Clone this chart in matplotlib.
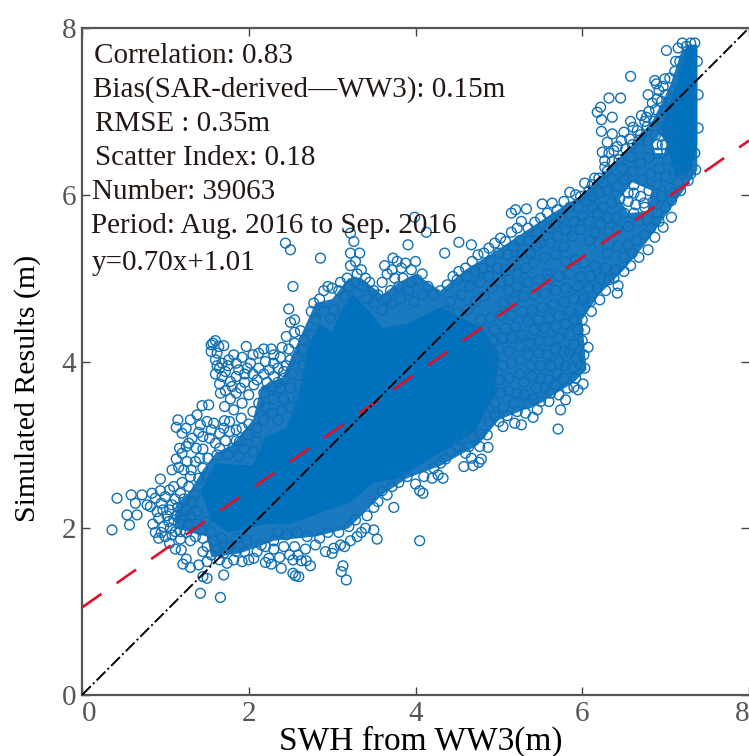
import numpy as np
import matplotlib
matplotlib.use("Agg")
import matplotlib.pyplot as plt

plt.rcParams["font.family"] = ["Liberation Serif", "DejaVu Serif"]

# values
line_x = [0, 8]
one_to_one_y = [0, 8]
fit_y = [1.05, 6.65]
ticks = [0, 2, 4, 6, 8]

stats_text = [
    "Correlation: 0.83",
    "Bias(SAR-derived\u2014WW3): 0.15m",
    "RMSE : 0.35m",
    "Scatter Index: 0.18",
    "Number: 39063",
    "Period: Aug. 2016 to Sep. 2016",
    "y=0.70x+1.01",
]
stats_x = [0.145, 0.135, 0.155, 0.155, 0.12, 0.105, 0.12]
stats_y = [7.66, 7.26, 6.85, 6.44, 6.03, 5.63, 5.18]

# the cloud is too overlapped to read single circles: outline of the crowded part (tint)
# and of the solid part, single circles only where they can be told apart
crowd_x = [1.1, 1.15, 1.3, 1.45, 1.6, 1.8, 2.05, 2.15, 2.4, 2.62, 2.8, 3.0, 3.2, 3.35, 3.6, 3.8, 4.0, 4.3, 4.6, 5.0, 5.3, 5.6, 6.0, 6.3, 6.6, 6.85, 7.05, 7.2, 7.38, 7.38, 7.25, 7.0, 6.75, 6.5, 6.2, 6.0, 6.05, 5.9, 5.5, 5.0, 4.75, 4.3, 3.9, 3.6, 3.2, 2.8, 2.3, 1.9, 1.55, 1.5, 1.3, 1.15]
crowd_y = [2.1, 2.3, 2.45, 2.7, 2.9, 3.0, 3.3, 3.7, 3.8, 4.3, 4.7, 4.75, 5.0, 5.0, 4.8, 4.95, 5.05, 4.85, 5.1, 5.35, 5.55, 5.75, 6.0, 6.3, 6.6, 6.9, 7.3, 7.75, 7.75, 6.3, 6.1, 5.75, 5.4, 5.1, 4.8, 4.5, 3.9, 3.75, 3.5, 3.3, 3.0, 2.75, 2.6, 2.4, 2.0, 1.9, 1.85, 1.7, 1.65, 1.9, 1.95, 2.0]
gap_a_x = [6.45, 6.6, 6.83, 6.78, 6.55]
gap_a_y = [5.95, 6.15, 6.05, 5.8, 5.78]
gap_b_x = [6.84, 6.93, 7.03, 6.98, 6.88]
gap_b_y = [6.6, 6.72, 6.62, 6.5, 6.5]
core_x = [1.55, 1.42, 1.6, 2.05, 2.2, 2.45, 2.6, 2.72, 2.85, 3.0, 3.1, 3.25, 3.45, 3.6, 3.9, 4.3, 4.8, 5.0, 4.95, 4.7, 4.2, 3.8, 3.5, 3.2, 2.9, 2.5, 2.2, 2.0, 1.75]
core_y = [2.1, 2.45, 2.78, 2.75, 3.1, 3.2, 3.6, 4.2, 4.45, 4.35, 4.6, 4.8, 4.6, 4.4, 4.45, 4.65, 4.4, 4.1, 3.6, 3.15, 2.85, 2.6, 2.55, 2.3, 2.2, 2.05, 2.05, 2.0, 1.95]
spine_x = [7.25, 7.15, 7.05, 6.95, 7.05, 7.12, 7.3, 7.38, 7.38]
spine_y = [7.8, 7.4, 7.1, 6.8, 6.5, 6.2, 6.3, 6.6, 7.8]

low_left = [(0.36,1.98),(0.42,2.36),(0.54,2.16),(0.57,2.04),(0.66,2.16),(0.59,2.40),(0.64,2.30),(0.72,2.40),(0.78,2.28),(0.84,2.42),(0.94,2.59),(0.94,2.45),
    (0.82,2.26),(0.88,2.36),(1.0,2.38),(1.05,2.46),(1.1,2.5),(0.9,2.2),(0.85,2.05),(0.88,1.95),(0.92,1.88),(1.0,1.9),(0.98,2.02),(1.06,2.0),(1.12,1.96),(1.02,2.15),(1.1,2.1),(1.18,2.05),(1.15,2.25),(1.22,2.35),(1.28,2.5),(1.2,2.55),(1.32,2.32),(1.3,2.15),(1.38,2.05),(1.25,1.95),(1.36,1.9),(1.05,1.82),(1.18,1.87),(1.3,1.85),(1.42,1.98),(1.48,2.08),(0.95,2.3),(1.08,2.28),(1.25,2.22),(1.38,2.2),(1.35,2.4),(1.4,2.6),(1.3,2.62),(1.45,2.72),(1.5,2.62),
    (1.42,1.22),(1.66,1.17),(1.50,1.40),(1.45,1.42),(1.70,1.44),(1.30,1.53),(1.21,1.57),(1.25,1.63),(1.40,1.56),(1.12,1.75),(1.19,1.74),
    (1.5,1.6),(1.55,1.68),(1.5,1.78),(1.45,1.72),(1.58,1.85),(1.65,1.62),(1.62,1.75),(1.7,1.7),(1.74,1.58),(1.78,1.78),(1.82,1.62),(1.85,1.72),(1.92,1.60),(1.95,1.72),(2.0,1.62),(2.06,1.64),(1.98,1.85),(2.1,1.72),(2.15,1.8),(2.2,1.78),(2.3,1.85),(1.55,1.95),(1.68,1.88),(1.85,1.88),(1.45,1.88),
    (0.92,2.12),(0.97,2.22),(1.05,2.22),(1.12,2.35),(1.18,2.42),(1.04,2.08),(0.95,1.95),(1.14,2.16),(1.22,2.12),(1.08,1.92),(1.18,1.96),(1.27,2.05)]
bottom_edge = [(3.17,1.38),(3.11,1.48),(3.13,1.55),(2.39,1.52),(2.53,1.46),(2.56,1.43),(2.60,1.42),(2.74,1.55),(2.69,1.61),(2.63,1.61),(2.53,1.62),(2.27,1.57),(2.20,1.59),(2.24,1.64),(2.37,1.65),(2.49,1.68),(2.59,1.68),
    (2.3,1.75),(2.42,1.78),(2.55,1.78),(2.68,1.75),(2.8,1.8),(2.92,1.72),(3.0,1.7),(3.02,1.76),(3.1,1.8),(3.15,1.78),(3.22,1.85),(3.3,1.9),(3.35,1.95),(3.4,2.0),(3.5,1.98),(3.54,1.87),(2.85,1.88),(2.7,1.9),(2.95,1.95),(3.08,1.95),(3.2,2.02),(3.28,2.1),(2.45,1.92),(2.35,1.95),(2.58,1.95),(3.42,2.15),(3.5,2.25),(3.55,2.32),(3.66,2.4),(3.74,2.25),(4.05,1.85),(3.6,2.45),(3.72,2.5),(3.8,2.55),
    (4.0,2.53),(4.05,2.45),(4.09,2.42),(4.1,2.62),(4.2,2.6),(4.27,2.64),(4.33,2.6),(4.22,2.72),(4.36,2.83),(4.5,2.98),(4.6,2.9),(4.64,2.98),(4.67,2.84),(4.58,2.74),(4.69,2.75),(4.76,2.79),(4.79,2.83),(4.78,3.13),(4.86,3.12),(4.77,2.98),(4.87,2.97),(3.9,2.62),(4.42,2.92),(4.55,3.06),(4.7,3.1),(4.45,3.1),(4.6,3.18),(4.3,2.78)]
upper_left = [(1.15,3.30),(1.13,3.21),(1.3,3.3),(1.38,3.36),(1.44,3.47),(1.52,3.48),(1.5,3.28),(1.58,3.26),(1.71,3.29),(1.77,3.28),(1.2,3.14),(1.32,3.08),(1.42,3.24),(1.53,3.08),(1.65,3.14),(1.77,3.16),(1.91,3.32),(1.99,3.12),(1.17,2.96),(1.37,2.96),(1.13,2.83),(1.2,2.9),(1.26,2.8),(1.16,2.73),(1.31,2.7),(1.41,2.84),(1.51,2.84),(1.65,2.96),(1.81,2.96),(1.89,3.04),(2.05,2.92),(2.09,3.04),(1.65,3.73),(1.66,3.62),(1.71,3.46),(1.78,3.76),
    (1.25,3.2),(1.28,3.02),(1.45,3.1),(1.6,3.02),(1.72,3.05),(1.85,3.18),(1.95,2.95),(2.0,3.25),(2.1,3.2),(2.18,3.3),(2.05,3.4),(1.82,3.42),(1.92,3.5),(2.0,3.6),(2.12,3.5),(2.2,3.45),(2.28,3.38),(2.35,3.3),(2.4,3.42),(2.3,3.55),(2.42,3.55),(2.5,3.45),(2.18,3.62),(2.06,3.72),(1.9,3.68),(1.85,3.82),(1.72,3.88),(1.6,3.85),(1.57,4.22),(1.6,4.25),(1.7,4.19),(1.97,4.18),(2.27,4.15),(2.4,4.17),(2.55,4.35),(2.62,4.37),(2.5,4.47),(2.48,4.63),(2.53,4.9),(2.86,5.24),(2.44,5.42),(2.5,5.34),
    (1.55,4.12),(1.62,4.1),(1.6,4.02),(1.68,3.98),(1.65,3.92),(1.76,4.02),(1.85,3.98),(1.92,4.05),(2.02,3.98),(2.12,4.1),(2.2,4.0),(2.3,3.98),(2.38,4.05),(2.48,4.15),(2.55,4.22),(2.45,3.95),(2.58,4.05),(2.65,4.15),(2.52,3.85),(2.42,3.8),(2.3,3.82),(2.18,3.85),(2.05,3.85),(1.95,3.85),(2.6,3.72),(2.5,3.68),(2.38,3.68),(2.28,3.7),(2.65,3.95),(2.66,4.25),(2.6,3.55),(2.68,3.85),(2.72,4.05),(2.75,4.32),(2.8,4.5),(2.78,4.7),(2.75,4.6),(2.9,4.6),(2.98,4.52),(3.02,4.62),
    (1.78,3.55),(1.85,3.62),(1.72,3.65),(1.95,3.75),(2.12,3.92),(2.25,3.9),(2.35,3.92),(2.1,3.78),(1.8,3.7),(1.88,3.9),(1.75,3.95),(1.98,3.92),(2.05,4.08),(2.18,4.15),(2.3,4.08),(2.42,3.88),(2.5,4.02),(2.35,3.75),(2.22,3.75),(1.68,3.82),(1.62,3.95),(1.55,4.2),(1.64,4.18),(1.82,4.08),(2.45,4.3),(2.55,4.5),(1.45,2.95),(1.55,3.18),(1.7,3.2),(1.85,3.05),(1.92,3.2),(1.62,2.88),(1.75,2.88),(1.88,2.86),(1.22,2.7),(1.36,2.8),(1.08,2.7),(1.25,2.98),(1.4,3.15)]
top_peak = [(3.22,5.54),(3.26,5.44),(3.22,5.3),(3.33,5.3),(2.9,4.85),(2.85,4.75),(2.95,4.9),(3.0,4.88),(3.08,4.85),(3.1,4.95),(3.18,5.0),(3.22,5.15),(3.28,5.2),(3.35,5.1),(3.3,5.05),(3.4,5.0),(3.45,4.95),(3.2,4.9),(3.27,4.95),(3.37,4.9),(3.5,4.85),(3.55,4.8),(3.6,4.95),(3.66,5.05),(3.72,5.1),(3.75,5.0),(3.8,4.9),(3.85,5.0),(3.78,5.2),(3.7,4.85),(3.65,4.75),(3.95,5.1),(3.88,5.18),(3.83,5.12),(3.92,4.85),(3.91,5.40),(3.73,5.24),(3.63,5.15),(4.0,5.2),(4.35,5.3),(4.52,5.43),(4.67,5.4),(4.13,5.55),(3.99,5.73),
    (3.15,4.78),(3.3,4.82),(3.42,4.75),(3.5,4.7),(3.6,4.62),(3.72,4.7),(3.82,4.75),(3.95,4.95),(4.02,4.98),(4.08,5.05),(3.98,4.72),(4.08,4.8),(4.15,4.9),(4.22,4.8),(4.3,4.85),(4.38,4.92),(4.45,5.02),(4.52,5.08),(4.6,5.12),(4.68,5.2),(4.75,5.28),(4.82,5.3),(4.88,5.36),(4.95,5.42),(5.02,5.48),(5.08,5.44),(5.15,5.55),(5.22,5.6),(5.27,5.68),(5.43,5.67),(5.33,5.83),(5.2,5.82),(5.15,5.78),(5.52,5.89),(5.64,5.9),(5.85,6.03),(6.03,6.14),(6.15,6.2),(5.35,5.6),(5.5,5.72),(5.58,5.78),(5.7,5.82),(5.78,5.92),(5.92,6.0),(5.98,5.98),(6.08,6.05),
    (4.5,4.98),(4.62,5.02),(4.72,5.08),(4.8,5.12),(4.9,5.2),(5.0,5.3),(5.1,5.28),(5.18,5.38),(5.25,5.45),(5.36,5.45),(5.45,5.55),(4.42,4.72),(4.55,4.8),(4.65,4.9),(4.78,4.95),(4.88,5.02),(4.98,5.12),(5.08,5.1),(5.18,5.2),(5.28,5.28),(5.38,5.3),(5.5,5.42),(5.6,5.6),(5.68,5.65),(5.75,5.72),(5.85,5.85),(5.95,5.85),(6.05,5.92),
    (4.35,4.6),(4.5,4.58),(4.62,4.62),(4.72,4.72),(4.82,4.78),(4.92,4.88),(5.02,4.95),(5.12,4.98),(5.22,5.05),(5.32,5.12),(5.42,5.18),(5.55,5.25),(5.62,5.42),(5.7,5.5),(5.8,5.58),(5.9,5.68),(6.0,5.75),(6.12,5.85),(5.45,5.38),(5.58,5.05),(5.68,5.28),(5.78,5.38),(5.88,5.5),(5.98,5.58),(6.08,5.68)]
right_block = [(6.03,4.38),(6.07,4.17),(6.03,3.92),(6.01,3.73),(5.95,3.66),(5.9,3.69),(5.8,3.54),(5.74,3.42),(5.71,3.19),(5.6,3.52),(5.46,3.42),(5.41,3.33),(5.27,3.24),(5.19,3.26),(5.05,3.22),(5.0,3.28),(4.95,3.35),(4.88,3.28),
    (5.1,3.35),(5.22,3.4),(5.32,3.38),(5.35,3.5),(5.5,3.52),(5.42,3.55),(5.62,3.62),(5.72,3.6),(5.82,3.68),(5.92,3.8),(5.98,3.95),(5.88,3.92),(5.78,3.8),(5.68,3.72),(5.55,3.68),(5.45,3.68),(5.3,3.6),(5.18,3.5),(5.05,3.45),(4.95,3.5),(4.88,3.45),
    (4.92,3.65),(5.02,3.62),(5.12,3.65),(5.22,3.62),(5.3,3.75),(5.4,3.82),(5.5,3.8),(5.6,3.78),(5.7,3.85),(5.8,3.95),(5.92,4.05),(6.02,4.08),(5.85,4.1),(5.72,4.0),(5.62,3.95),(5.5,3.95),(5.38,3.95),(5.25,3.85),(5.12,3.8),(5.0,3.78),(4.92,3.88),
    (4.95,4.02),(5.05,3.95),(5.15,3.98),(5.25,4.02),(5.35,4.08),(5.48,4.1),(5.58,4.08),(5.68,4.15),(5.78,4.12),(5.9,4.2),(6.0,4.25),(5.95,4.38),(5.85,4.32),(5.72,4.28),(5.6,4.25),(5.48,4.25),(5.38,4.22),(5.25,4.18),(5.12,4.12),(5.0,4.15),(4.88,4.12),
    (4.8,4.25),(4.92,4.25),(5.05,4.28),(5.15,4.28),(5.28,4.32),(5.42,4.38),(5.55,4.4),(5.68,4.42),(5.8,4.45),(5.9,4.5),(6.0,4.5),(6.11,4.6),(5.98,4.62),(5.85,4.6),(5.72,4.55),(5.6,4.52),(5.48,4.5),(5.35,4.48),(5.2,4.42),(5.08,4.4),(4.95,4.38),(4.82,4.38),
    (4.78,4.5),(4.9,4.52),(5.02,4.55),(5.15,4.55),(5.28,4.6),(5.4,4.62),(5.52,4.65),(5.65,4.68),(5.78,4.72),(5.9,4.75),(6.02,4.75),(6.21,4.74),(6.1,4.72),(5.05,4.7),(5.18,4.72),(5.3,4.78),(5.42,4.8),(5.55,4.82),(5.68,4.85),(5.8,4.88),(5.95,4.9),(6.08,4.88),(6.18,4.88),(6.28,4.85),
    (5.12,4.85),(5.22,4.9),(5.35,4.95),(5.48,4.98),(5.6,4.98),(5.72,5.02),(5.85,5.05),(5.98,5.02),(6.1,5.02),(6.22,5.0),(6.32,4.98),(6.38,5.0),(6.42,4.82),(6.43,4.91),(5.8,5.2),(5.92,5.22),(6.02,5.18),(6.15,5.15),(6.28,5.12),(6.4,5.1),(6.5,5.08),(6.58,5.15),(6.68,5.25),(6.79,5.34),(6.6,5.3),(6.5,5.25)]
band = [(7.01,7.73),(6.58,7.42),(6.32,7.16),(6.46,7.16),(6.22,7.05),(6.18,6.99),(6.36,6.93),(6.23,6.9),(6.23,6.76),(6.36,6.73),(6.3,6.63),(6.24,6.51),(6.38,6.53),(6.27,6.41),(6.27,6.33),(6.79,7.2),(6.87,7.37),(6.99,7.39),(6.89,7.33),(6.71,6.95),(6.77,6.93),(6.61,6.81),(6.66,6.77),(6.47,6.65),(6.57,6.67),(6.87,5.49),(7.07,5.73),(6.97,5.61),(7.07,5.93),(7.27,6.17),(7.35,6.5),
    (7.2,7.82),(7.15,7.76),(7.17,7.6),(7.11,7.48),(7.1,7.25),(7.05,7.1),(7.0,7.2),(6.95,7.12),(6.88,7.02),(6.92,7.25),(6.84,7.1),(6.8,7.0),(7.02,6.95),(6.95,6.92),(6.86,6.88),(6.78,6.82),(6.7,6.72),(6.6,6.6),(6.52,6.55),(6.44,6.42),(6.36,6.4),(6.3,6.28),(6.2,6.2),(6.12,6.12),(6.25,6.15),(6.35,6.2),(6.48,6.32),(6.58,6.45),(6.68,6.55),(6.78,6.65),(6.88,6.72),(6.98,6.78),(7.08,6.85),(7.0,6.6),(6.9,6.5),(6.8,6.45),(6.7,6.38),(6.6,6.28),(6.5,6.18),(6.42,6.1),(6.3,6.05),(6.2,6.02),(6.12,5.98),
    (7.08,6.55),(7.02,6.42),(6.92,6.32),(6.82,6.25),(6.72,6.18),(6.62,6.12),(6.55,6.02),(6.45,5.95),(6.35,5.9),(6.25,5.85),(6.18,5.78),(7.1,6.3),(7.0,6.22),(6.9,6.12),(6.8,6.05),(7.15,6.15),(7.05,6.08),(6.95,5.98),(6.85,5.92),(6.75,5.85),(6.62,5.78),(6.5,5.78),(6.4,5.72),(6.3,5.72),(6.22,5.65),(6.15,5.55),(6.08,5.45),(6.2,5.42),(6.32,5.55),(6.42,5.58),(6.55,5.62),(6.68,5.68),(6.78,5.7),(6.9,5.78),(7.0,5.85),(7.1,6.02),(7.18,6.05),(6.75,5.52),(6.65,5.45),(6.55,5.4),(6.42,5.38),(6.3,5.3),(6.82,5.6),(6.92,5.68),(7.22,6.3),(7.18,6.5),(7.1,6.7),(7.02,6.72),(7.0,7.0),(7.08,7.05),(6.75,6.88),(6.68,6.65),(6.58,6.88),(6.5,6.75),(6.42,6.58),(6.32,6.5),
    (7.3,7.82),(7.35,7.82),(7.25,7.78),(7.38,7.6),(7.39,7.2),(7.39,6.8),(7.36,6.3),(7.3,6.25),(7.12,7.6),(7.05,7.4),(6.97,7.3),(6.9,7.15),
    (6.55,5.92),(6.62,6.02),(6.7,5.98),(6.74,5.9),(6.64,5.88),(6.9,6.6),(6.96,6.6)]

all_points = low_left + bottom_edge + upper_left + top_peak + right_block + band
scatter_x = np.array([p[0] for p in all_points])
scatter_y = np.array([p[1] for p in all_points])

fig = plt.figure(figsize=(7.49, 7.56), dpi=100)
ax = fig.add_axes([82 / 749, 61 / 756, 667 / 749, 667 / 756])

ax.fill(crowd_x, crowd_y, color="#1A79BF", lw=0, zorder=1)
ax.fill(gap_a_x, gap_a_y, color="white", lw=0, zorder=1.1)
ax.fill(gap_b_x, gap_b_y, color="white", lw=0, zorder=1.1)
ax.fill(core_x, core_y, color="#0072BD", lw=0, zorder=1.2)
ax.fill(spine_x, spine_y, color="#0072BD", lw=0, zorder=1.2)
ax.scatter(scatter_x, scatter_y, s=50, facecolors="none", edgecolors="#0F70B7", linewidths=1.0, zorder=2)

ax.plot(line_x, fit_y, color="#E0102A", lw=1.9, dashes=(9, 7), zorder=3)
ax.plot(line_x, one_to_one_y, color="black", lw=1.4, ls="-.", zorder=4)

ax.set_xlim(0, 8)
ax.set_ylim(0, 8)
ax.set_xticks(ticks)
ax.set_yticks(ticks)
ax.tick_params(direction="in", length=6, width=1, top=True, right=True, labelsize=21, labelcolor="#555555", color="#444444", pad=4)
ax.get_xticklabels()[0].set_ha("left")
ax.get_xticklabels()[-1].set_ha("right")
for name, w in [("left", 1.6), ("bottom", 1.6), ("top", 1.6), ("right", 0.5)]:
    ax.spines[name].set_linewidth(w)
    ax.spines[name].set_color("#555555")

ax.set_xlabel("SWH from WW3(m)", fontsize=24, va="center")
ax.set_ylabel("Simulated Results (m)", fontsize=21.5, va="center")
ax.xaxis.set_label_coords(0.508, -0.069)
ax.yaxis.set_label_coords(-0.081, 0.46)

for s, tx, ty in zip(stats_text, stats_x, stats_y):
    ax.text(tx, ty, s, fontsize=21, color="#231815", va="center", ha="left", zorder=5)

fig.savefig("out.png", dpi=100)
